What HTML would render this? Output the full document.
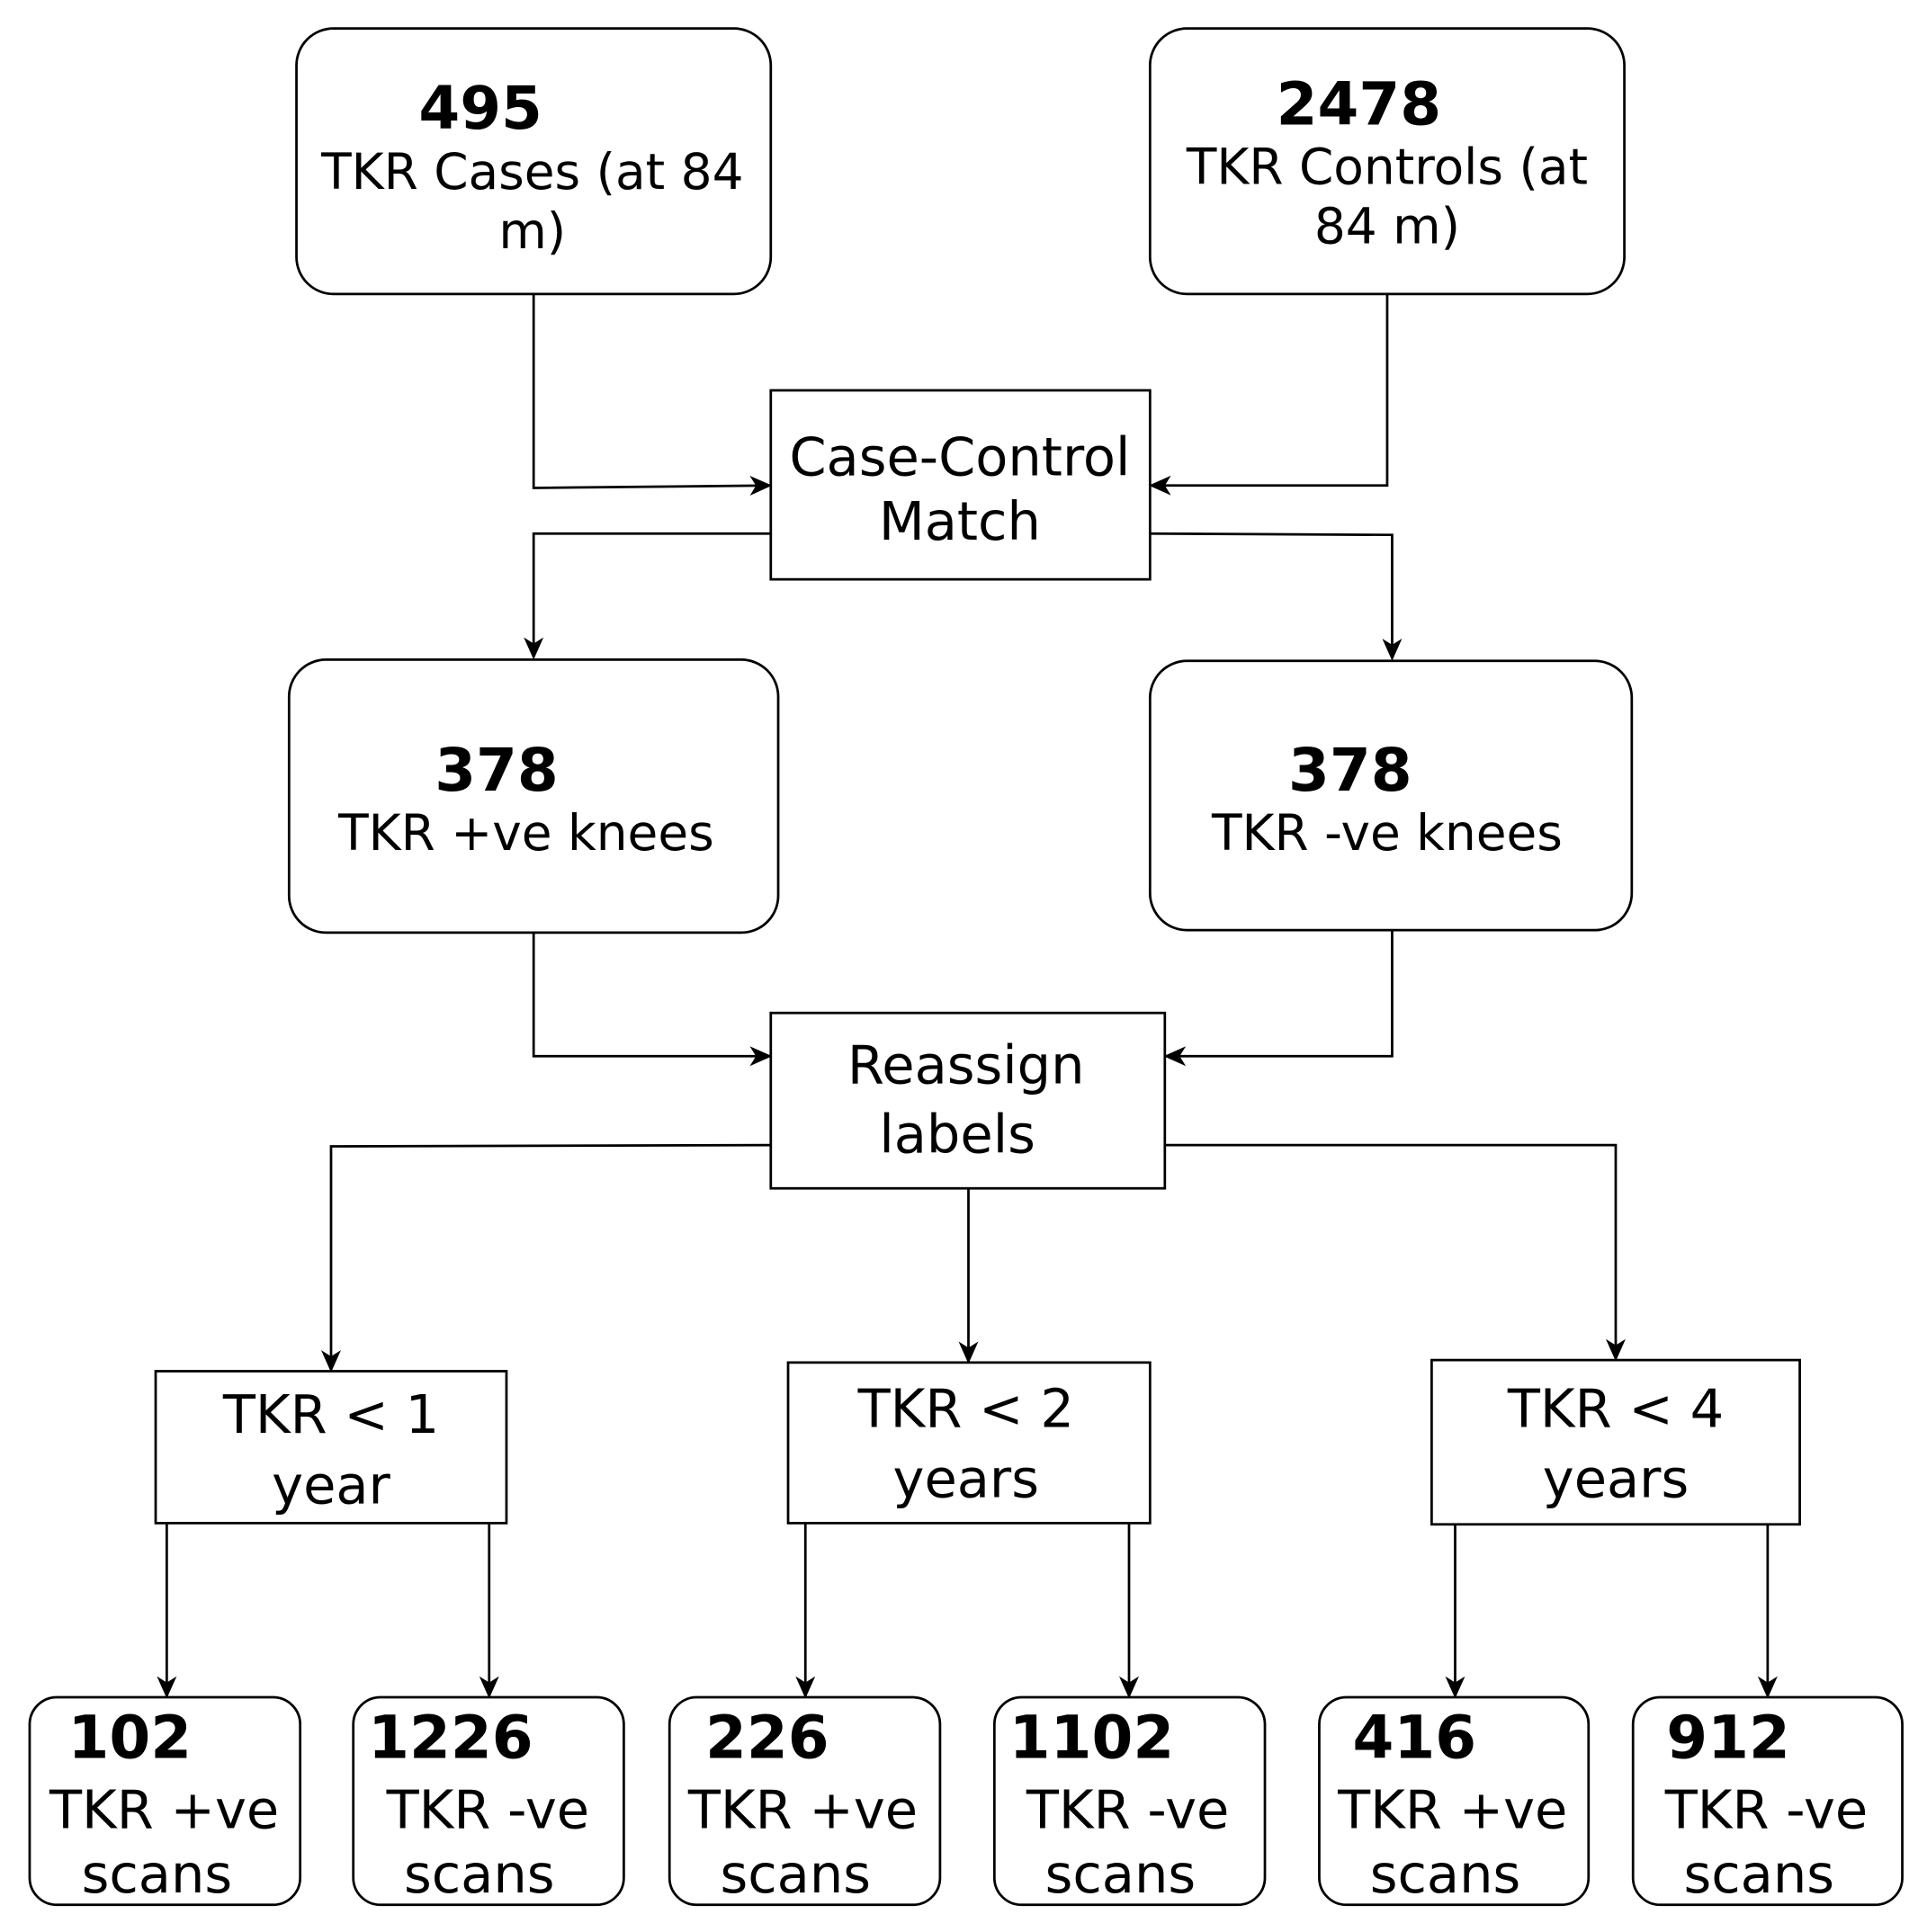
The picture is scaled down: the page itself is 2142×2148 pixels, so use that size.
<!DOCTYPE html>
<html><head><meta charset="utf-8"><style>
html,body{margin:0;padding:0;background:#fff;}
svg{display:block;}
text{font-family:"DejaVu Sans","Liberation Sans",sans-serif;fill:#000;}
.b{font-weight:bold;font-size:48px;}
.t{font-size:40px;}
.s{font-size:43px;}
</style></head><body>
<svg width="2142" height="2148" viewBox="0 0 1560 1564" preserveAspectRatio="none" xmlns="http://www.w3.org/2000/svg">
<defs><marker id="a" markerWidth="18" markerHeight="16" refX="16" refY="8" orient="auto" markerUnits="userSpaceOnUse"><path d="M0,0 L18,8 L0,16 L5,8 Z" fill="#000"/></marker></defs>
<g fill="none" stroke="#000" stroke-width="2">
<rect x="240" y="23" width="384" height="215" rx="30"/>
<rect x="931" y="23" width="384" height="215" rx="30"/>
<rect x="624" y="316" width="307" height="153"/>
<rect x="234" y="534" width="396" height="221" rx="30"/>
<rect x="931" y="535" width="390" height="218" rx="30"/>
<rect x="624" y="820" width="319" height="142"/>
<rect x="126" y="1110" width="284" height="123"/>
<rect x="638" y="1103" width="293" height="130"/>
<rect x="1159" y="1101" width="298" height="133"/>
<rect x="24" y="1374" width="219" height="168" rx="22"/>
<rect x="286" y="1374" width="219" height="168" rx="22"/>
<rect x="542" y="1374" width="219" height="168" rx="22"/>
<rect x="805" y="1374" width="219" height="168" rx="22"/>
<rect x="1068" y="1374" width="218" height="168" rx="22"/>
<rect x="1322" y="1374" width="218" height="168" rx="22"/>
<g marker-end="url(#a)">
<path d="M432,238 V395 L623,393"/>
<path d="M1123,238 V393 H932"/>
<path d="M624,432 H432 V532"/>
<path d="M931,432 L1127,433 V533"/>
<path d="M432,755 V855 H623"/>
<path d="M1127,753 V855 H944"/>
<path d="M624,927 L268,928 V1109"/>
<path d="M784,962 V1102"/>
<path d="M943,927 H1308 V1100"/>
<path d="M135,1233 V1373"/>
<path d="M396,1233 V1373"/>
<path d="M652,1233 V1373"/>
<path d="M914,1233 V1373"/>
<path d="M1178,1234 V1373"/>
<path d="M1431,1234 V1373"/>
</g></g>
<text class="b" x="389" y="104" text-anchor="middle">495</text>
<text class="t" x="431" y="153" text-anchor="middle">TKR Cases (at 84</text>
<text class="t" x="431" y="201" text-anchor="middle">m)</text>
<text class="b" x="1100" y="101" text-anchor="middle">2478</text>
<text class="t" x="1123" y="149" text-anchor="middle">TKR Controls (at</text>
<text class="t" x="1123" y="197" text-anchor="middle">84 m)</text>
<text class="s" x="777" y="385" text-anchor="middle">Case-Control</text>
<text class="s" x="777" y="437" text-anchor="middle">Match</text>
<text class="b" x="402" y="640" text-anchor="middle">378</text>
<text class="t" x="426" y="688" text-anchor="middle">TKR +ve knees</text>
<text class="b" x="1093" y="640" text-anchor="middle">378</text>
<text class="t" x="1123" y="688" text-anchor="middle">TKR -ve knees</text>
<text class="s" x="782" y="877" text-anchor="middle">Reassign</text>
<text class="s" x="775" y="933" text-anchor="middle">labels</text>
<text class="s" x="268" y="1160" text-anchor="middle">TKR &lt; 1</text>
<text class="s" x="268" y="1217" text-anchor="middle">year</text>
<text class="s" x="782" y="1155" text-anchor="middle">TKR &lt; 2</text>
<text class="s" x="782" y="1212" text-anchor="middle">years</text>
<text class="s" x="1308" y="1155" text-anchor="middle">TKR &lt; 4</text>
<text class="s" x="1308" y="1212" text-anchor="middle">years</text>
<text class="b" x="55" y="1423">102</text>
<text class="b" x="298" y="1423">1226</text>
<text class="b" x="571" y="1423">226</text>
<text class="b" x="817" y="1423">1102</text>
<text class="b" x="1095" y="1423">416</text>
<text class="b" x="1349" y="1423">912</text>
<text class="s" x="133" y="1480" text-anchor="middle">TKR +ve</text>
<text class="s" x="395" y="1480" text-anchor="middle">TKR -ve</text>
<text class="s" x="650" y="1480" text-anchor="middle">TKR +ve</text>
<text class="s" x="913" y="1480" text-anchor="middle">TKR -ve</text>
<text class="s" x="1176" y="1480" text-anchor="middle">TKR +ve</text>
<text class="s" x="1430" y="1480" text-anchor="middle">TKR -ve</text>
<text class="s" x="127" y="1532" text-anchor="middle">scans</text>
<text class="s" x="388" y="1532" text-anchor="middle">scans</text>
<text class="s" x="644" y="1532" text-anchor="middle">scans</text>
<text class="s" x="907" y="1532" text-anchor="middle">scans</text>
<text class="s" x="1170" y="1532" text-anchor="middle">scans</text>
<text class="s" x="1424" y="1532" text-anchor="middle">scans</text>
</svg>
</body></html>
